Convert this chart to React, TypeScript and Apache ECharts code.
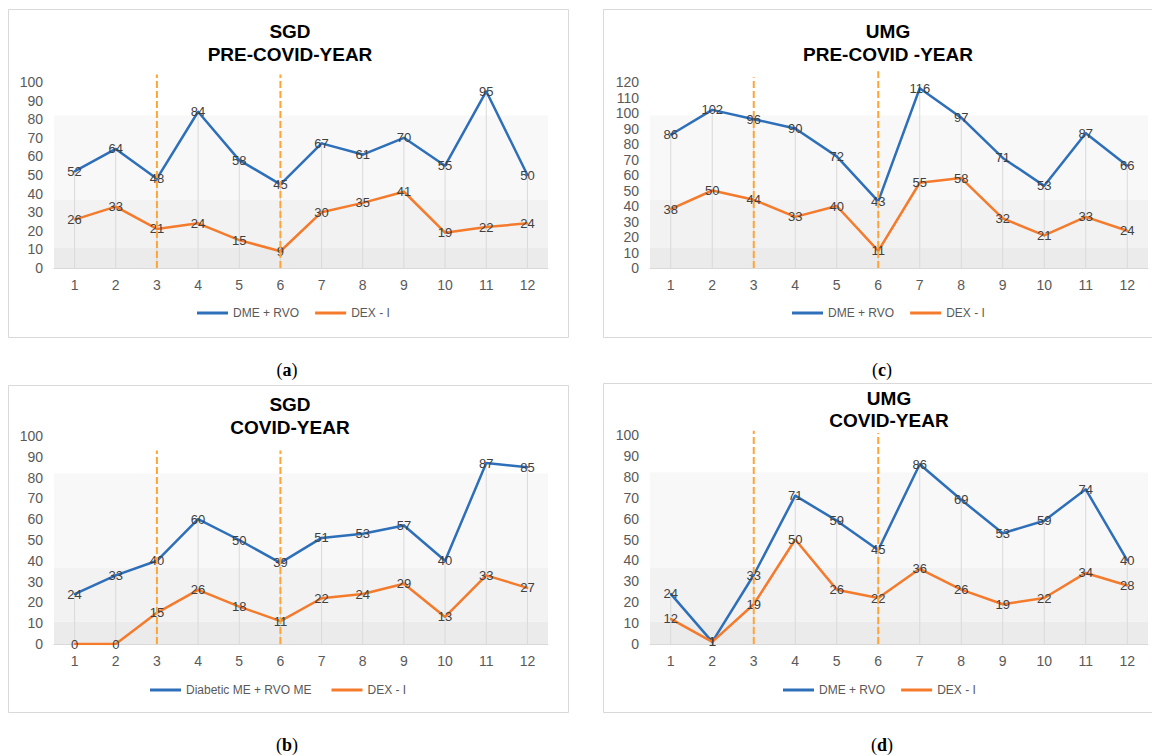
import React, { useEffect, useRef } from "react";
import * as echarts from "echarts";

// ---------- data ----------
const months = ["1", "2", "3", "4", "5", "6", "7", "8", "9", "10", "11", "12"];

const sgdPreBlue = [52, 64, 48, 84, 58, 45, 67, 61, 70, 55, 95, 50];
const sgdPreOrange = [26, 33, 21, 24, 15, 9, 30, 35, 41, 19, 22, 24];

const umgPreBlue = [86, 102, 96, 90, 72, 43, 116, 97, 71, 53, 87, 66];
const umgPreOrange = [38, 50, 44, 33, 40, 11, 55, 58, 32, 21, 33, 24];

const sgdCovBlue = [24, 33, 40, 60, 50, 39, 51, 53, 57, 40, 87, 85];
const sgdCovOrange = [0, 0, 15, 26, 18, 11, 22, 24, 29, 13, 33, 27];

const umgCovBlue = [24, 1, 33, 71, 59, 45, 86, 69, 53, 59, 74, 40];
const umgCovOrange = [12, 1, 19, 50, 26, 22, 36, 26, 19, 22, 34, 28];

const dashedMonths = ["3", "6"];

const BLUE = "#2E6FBA";
const ORANGE = "#F47A2C";
const DASH = "#FFA436";
const FONT = "Liberation Sans";

type Panel = {
  blue: number[];
  orange: number[];
  blueName: string;
  max: number;
  dashTops: number[];
  title: string[];
  titleX: number;
  titleY: number[];
  grid: { left: number; top: number; width: number; height: number };
  legendLeft: number;
  legendTop: number;
  legendGap: number;
  caption: string;
  captionX: number;
  captionY: number;
  box: number[];
};

const panels: Panel[] = [
  {
    blue: sgdPreBlue,
    orange: sgdPreOrange,
    blueName: "DME + RVO",
    max: 100,
    dashTops: [104, 104],
    title: ["SGD", "PRE-COVID-YEAR"],
    titleX: 290,
    titleY: [31, 54],
    grid: { left: 54, top: 82, width: 494, height: 186 },
    legendLeft: 197,
    legendTop: 307,
    legendGap: 16,
    caption: "a",
    captionX: 287,
    captionY: 370,
    box: [8.5, 9.5, 560, 328],
  },
  {
    blue: umgPreBlue,
    orange: umgPreOrange,
    blueName: "DME + RVO",
    max: 120,
    dashTops: [123, 127],
    title: ["UMG", "PRE-COVID -YEAR"],
    titleX: 888,
    titleY: [31, 54],
    grid: { left: 650, top: 82, width: 498, height: 186 },
    legendLeft: 792,
    legendTop: 307,
    legendGap: 16,
    caption: "c",
    captionX: 882,
    captionY: 370,
    box: [603.5, 9.5, 620, 328],
  },
  {
    blue: sgdCovBlue,
    orange: sgdCovOrange,
    blueName: "Diabetic ME + RVO ME",
    max: 100,
    dashTops: [93, 93],
    title: ["SGD", "COVID-YEAR"],
    titleX: 290,
    titleY: [404, 427],
    grid: { left: 54, top: 436, width: 494, height: 208 },
    legendLeft: 150,
    legendTop: 684,
    legendGap: 20,
    caption: "b",
    captionX: 287,
    captionY: 745,
    box: [8.5, 385.5, 560, 327],
  },
  {
    blue: umgCovBlue,
    orange: umgCovOrange,
    blueName: "DME + RVO",
    max: 100,
    dashTops: [102, 101],
    title: ["UMG", "COVID-YEAR"],
    titleX: 889,
    titleY: [398, 420],
    grid: { left: 650, top: 435, width: 498, height: 209 },
    legendLeft: 783,
    legendTop: 684,
    legendGap: 16,
    caption: "d",
    captionX: 882,
    captionY: 745,
    box: [603.5, 383.5, 620, 329],
  },
];

function buildOption() {
  const grids: any[] = [];
  const xAxes: any[] = [];
  const yAxes: any[] = [];
  const series: any[] = [];
  const legends: any[] = [];
  const graphics: any[] = [];

  panels.forEach((p, i) => {
    grids.push({ ...p.grid, containLabel: false });
    xAxes.push({
      type: "category",
      gridIndex: i,
      data: months,
      boundaryGap: true,
      axisLine: { show: true, lineStyle: { color: "#D9D9D9", width: 1 } },
      axisTick: { show: false },
      splitLine: { show: false },
      axisLabel: { color: "#595959", fontSize: 14, fontFamily: FONT, margin: 10 },
    });
    yAxes.push({
      type: "value",
      gridIndex: i,
      min: 0,
      max: p.max,
      interval: 10,
      axisLine: { show: false },
      axisTick: { show: false },
      splitLine: { show: false },
      axisLabel: { color: "#595959", fontSize: 14, fontFamily: FONT, margin: 11 },
    });

    const dropData = months.map((_, k) => [k, Math.max(p.blue[k], p.orange[k])]);
    series.push({
      type: "custom",
      name: "drop" + i,
      xAxisIndex: i,
      yAxisIndex: i,
      silent: true,
      z: 1,
      data: dropData,
      encode: { x: 0, y: 1 },
      renderItem: (params: any, api: any) => {
        const a = api.coord([api.value(0), 0]);
        const b = api.coord([api.value(0), api.value(1)]);
        return {
          type: "line",
          shape: { x1: a[0], y1: a[1], x2: b[0], y2: b[1] },
          style: { stroke: "#D9D9D9", lineWidth: 1 },
        };
      },
      markArea: {
        silent: true,
        z: 0,
        data: [
          [{ yAxis: 0, itemStyle: { color: "#EBEBEB" } }, { yAxis: p.max * 0.108 }],
          [{ yAxis: p.max * 0.108, itemStyle: { color: "#F2F2F2" } }, { yAxis: p.max * 0.366 }],
          [{ yAxis: p.max * 0.366, itemStyle: { color: "#F8F8F8" } }, { yAxis: p.max * 0.82 }],
        ],
      },
    });

    series.push({
      type: "custom",
      name: "dash" + i,
      xAxisIndex: i,
      yAxisIndex: i,
      silent: true,
      z: 4,
      data: dashedMonths.map((m, k) => [months.indexOf(m), p.dashTops[k]]),
      encode: { x: 0, y: 1 },
      renderItem: (params: any, api: any) => {
        const a = api.coord([api.value(0), 0]);
        const b = api.coord([api.value(0), api.value(1)]);
        return {
          type: "line",
          shape: { x1: a[0], y1: a[1], x2: b[0], y2: b[1] },
          style: { stroke: DASH, lineWidth: 2, lineDash: [7, 3] },
        };
      },
    });

    const lineCommon = {
      type: "line",
      xAxisIndex: i,
      yAxisIndex: i,
      symbol: "circle",
      symbolSize: 2,
      showSymbol: true,
      z: 3,
      label: {
        show: true,
        position: "inside",
        color: "#404040",
        fontSize: 13,
        fontFamily: FONT,
      },
    };
    series.push({
      ...lineCommon,
      name: p.blueName,
      data: p.blue,
      lineStyle: { color: BLUE, width: 2.5 },
      itemStyle: { color: BLUE },
    });
    series.push({
      ...lineCommon,
      name: "DEX - I",
      data: p.orange,
      lineStyle: { color: ORANGE, width: 2.5 },
      itemStyle: { color: ORANGE },
    });

    legends.push({
      left: p.legendLeft,
      top: p.legendTop,
      padding: 0,
      icon: "rect",
      itemWidth: 31,
      itemHeight: 3,
      itemGap: p.legendGap,
      selectedMode: false,
      data: [p.blueName, "DEX - I"],
      textStyle: { color: "#595959", fontSize: 12, fontFamily: FONT },
    });

    graphics.push({
      type: "rect",
      shape: { x: p.box[0], y: p.box[1], width: p.box[2], height: p.box[3] },
      style: { fill: "none", stroke: "#D9D9D9", lineWidth: 1 },
      z: -1,
      silent: true,
    });
    p.title.forEach((t, k) => {
      graphics.push({
        type: "text",
        x: p.titleX,
        y: p.titleY[k],
        style: {
          text: t,
          fill: "#000000",
          font: `bold 19px "${FONT}"`,
          textAlign: "center",
          textVerticalAlign: "middle",
        },
        silent: true,
      });
    });
    graphics.push({
      type: "text",
      x: p.captionX,
      y: p.captionY,
      style: {
        text: `{n|(}{b|${p.caption}}{n|)}`,
        textAlign: "center",
        textVerticalAlign: "middle",
        rich: {
          n: { fontFamily: "Liberation Serif", fontSize: 18, fill: "#000000", color: "#000000" },
          b: { fontFamily: "Liberation Serif", fontSize: 18, fontWeight: "bold", fill: "#000000", color: "#000000" },
        },
      },
      silent: true,
    });
  });

  return {
    animation: false,
    backgroundColor: "#FFFFFF",
    textStyle: { fontFamily: FONT },
    grid: grids,
    xAxis: xAxes,
    yAxis: yAxes,
    legend: legends,
    series,
    graphic: { elements: graphics },
  };
}

export default function App() {
  const ref = useRef<HTMLDivElement>(null);
  useEffect(() => {
    document.body.style.margin = "0";
    if (!ref.current) return;
    const chart = echarts.init(ref.current, undefined, { renderer: "svg" });
    chart.setOption(buildOption() as any);
    return () => chart.dispose();
  }, []);
  return <div ref={ref} style={{ width: 1152, height: 756, background: "#fff" }} />;
}
